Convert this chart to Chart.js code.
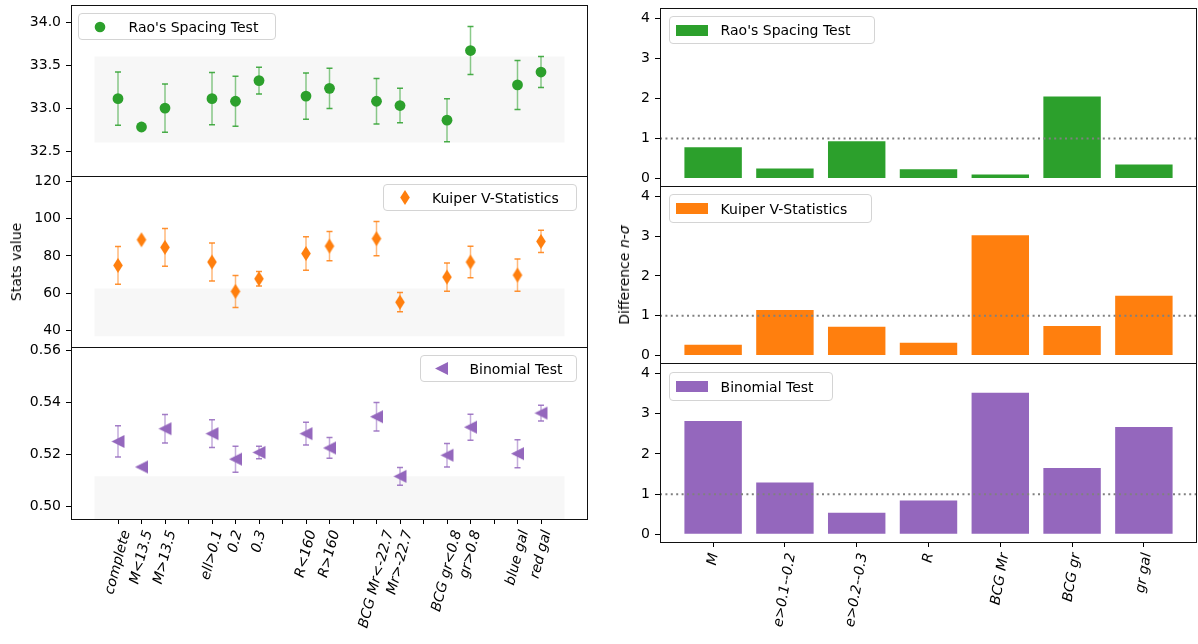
<!DOCTYPE html>
<html>
<head>
<meta charset="utf-8">
<script src="https://cdn.jsdelivr.net/npm/chart.js"></script>
<style>
html, body { margin: 0; padding: 0; background: #fff; overflow: hidden; }
#fig { position: relative; width: 1198px; height: 644px; overflow: hidden; font-family: 'DejaVu Sans', sans-serif; color: #000; }
.box { position: absolute; }
.legend { position: absolute; box-sizing: border-box; border: 1px solid #d4d4d4; border-radius: 4px; background: rgba(255,255,255,0.8); }
.lg-text { position: absolute; font-size: 14px; line-height: 16px; white-space: nowrap; }
.ytitle { position: absolute; font-size: 14px; white-space: nowrap; transform: translate(-50%, -50%) rotate(-90deg); }
</style>
</head>
<body>
<div id="fig"></div>
<script>
// --- data: left column (stat values with 1-sigma errors) ---
const categories = ['complete', 'M<13.5', 'M>13.5', 'ell>0.1', '0.2', '0.3', 'R<160', 'R>160',
  'BCG Mr<-22.7', 'Mr>-22.7', 'BCG gr<0.8', 'gr>0.8', 'blue gal', 'red gal'];
const catPos = [0, 1, 2, 4, 5, 6, 8, 9, 11, 12, 14, 15, 17, 18];
const tickPos = [0, 1, 2, 3, 4, 5, 6, 7, 8, 9, 10, 11, 12, 13, 14, 15, 16, 17, 18];

const raoValues = [33.11, 32.78, 33.00, 33.11, 33.08, 33.32, 33.14, 33.23, 33.08, 33.03, 32.86, 33.67, 33.27, 33.42];
const raoErrors = [0.31, null, 0.28, 0.305, 0.29, 0.155, 0.27, 0.235, 0.265, 0.20, 0.25, 0.28, 0.285, 0.18];
const kuiperValues = [74.9, 88.7, 84.6, 76.7, 60.9, 67.7, 81.3, 85.3, 89.3, 55.1, 68.6, 76.7, 69.7, 87.8];
const kuiperErrors = [10.2, null, 10.2, 10.2, 8.6, 3.9, 9.0, 7.9, 9.2, 5.2, 7.6, 8.5, 8.7, 6.0];
const binomValues = [0.5250, 0.5152, 0.5299, 0.5280, 0.5182, 0.5208, 0.5280, 0.5225, 0.5345, 0.5116, 0.5197, 0.5305, 0.5203, 0.5359];
const binomErrors = [0.0060, null, 0.0055, 0.0053, 0.0050, 0.0024, 0.0044, 0.0040, 0.0055, 0.0034, 0.0045, 0.0050, 0.0054, 0.0030];

// reference (isotropic) ranges shown as grey bands
const bandSpan = [-1, 19];
const raoBand = [32.6, 33.6];
const kuiperBand = [36.8, 62.5];
const binomBand = [0.49, 0.5116];

const raoTicks = [32.5, 33.0, 33.5, 34.0];
const kuiperTicks = [40, 60, 80, 100, 120];
const binomTicks = [0.50, 0.52, 0.54, 0.56];
const leftXRange = [-2, 20];
const raoRange = [32.21, 34.2];
const kuiperRange = [31.0, 123.0];
const binomRange = [0.4952, 0.5613];

// --- data: right column (difference in n-sigma) ---
const diffCategories = ['M', 'e>0.1--0.2', 'e>0.2--0.3', 'R', 'BCG Mr', 'BCG gr', 'gr gal'];
const diffPos = [0, 1, 2, 3, 4, 5, 6];
const raoSigma = [0.78, 0.25, 0.93, 0.23, 0.10, 2.05, 0.35];
const kuiperSigma = [0.27, 1.14, 0.72, 0.32, 3.02, 0.74, 1.50];
const binomSigma = [2.82, 1.29, 0.54, 0.84, 3.52, 1.65, 2.67];
const sigmaLine = 1;
const sigmaTicks = [0, 1, 2, 3, 4];
const rightXRange = [-0.74, 6.74];
const sigmaRange = [-0.19, 4.26];

const GREEN = '#2ca02c', ORANGE = '#ff7f0e', PURPLE = '#9467bd';

Chart.defaults.font.family = "'DejaVu Sans', sans-serif";
Chart.defaults.font.size = 14;
Chart.defaults.color = '#000';

const fig = document.getElementById('fig');

function rgba(hex, a) {
  const n = parseInt(hex.slice(1), 16);
  return `rgba(${n >> 16},${(n >> 8) & 255},${n & 255},${a})`;
}

// small canvases for matplotlib-like markers
function markerImage(kind, color) {
  const c = document.createElement('canvas');
  const g = c.getContext('2d');
  if (kind === 'diamond') {
    c.width = 12; c.height = 17;
  } else if (kind === 'triangle') {
    c.width = 15; c.height = 15;
  } else if (kind === 'circle') {
    c.width = 12; c.height = 12;
  } else {
    c.width = 32; c.height = 11;
  }
  g.fillStyle = color;
  g.beginPath();
  if (kind === 'diamond') {
    g.moveTo(6, 1); g.lineTo(10.8, 8.5); g.lineTo(6, 16); g.lineTo(1.2, 8.5);
  } else if (kind === 'triangle') {
    g.moveTo(1, 7.5); g.lineTo(14, 1); g.lineTo(14, 14);
  } else if (kind === 'circle') {
    g.arc(6, 6, 5.3, 0, Math.PI * 2);
  } else {
    g.rect(0, 0, 32, 11);
  }
  g.closePath();
  g.fill();
  return c;
}

const framePlugin = {
  id: 'frame',
  afterDraw(chart) {
    const { ctx, chartArea: a } = chart;
    const l = Math.round(a.left) + 0.5, t = Math.round(a.top) + 0.5;
    const r = Math.round(a.right) - 0.5, b = Math.round(a.bottom) + 0.5;
    ctx.save();
    ctx.strokeStyle = '#111';
    ctx.lineWidth = 1;
    ctx.strokeRect(l, t, r - l, b - t);
    ctx.restore();
  }
};

function bandAndErrors(band) {
  return {
    id: 'bandErrors',
    beforeDatasetsDraw(chart) {
      const { ctx, chartArea: a, scales: { x, y } } = chart;
      ctx.save();
      ctx.beginPath();
      ctx.rect(a.left, a.top, a.right - a.left, a.bottom - a.top);
      ctx.clip();
      const x0 = x.getPixelForValue(bandSpan[0]), x1 = x.getPixelForValue(bandSpan[1]);
      const y0 = y.getPixelForValue(band[1]), y1 = y.getPixelForValue(band[0]);
      ctx.fillStyle = '#f7f7f7';
      ctx.fillRect(x0, y0, x1 - x0, y1 - y0);
      ctx.lineWidth = 1.5;
      chart.data.datasets.forEach(ds => {
        if (!ds.errors) return;
        ds.data.forEach((p, i) => {
          const e = ds.errors[i];
          if (e == null) return;
          const px = x.getPixelForValue(p.x);
          const top = y.getPixelForValue(p.y + e), bot = y.getPixelForValue(p.y - e);
          ctx.strokeStyle = rgba(ds.backgroundColor, 0.55);
          ctx.beginPath(); ctx.moveTo(px, top); ctx.lineTo(px, bot); ctx.stroke();
          ctx.strokeStyle = rgba(ds.backgroundColor, 0.85);
          ctx.beginPath();
          ctx.moveTo(px - 3, top); ctx.lineTo(px + 3, top);
          ctx.moveTo(px - 3, bot); ctx.lineTo(px + 3, bot);
          ctx.stroke();
        });
      });
      ctx.restore();
    }
  };
}

// rotated, centred tick labels (matplotlib style)
function xLabels(labels, positions, rotation) {
  return {
    id: 'xLabels',
    afterDraw(chart) {
      const { ctx, chartArea: a, scales: { x } } = chart;
      const th = rotation * Math.PI / 180;
      const h = 16.3;
      ctx.save();
      ctx.font = "italic 14px 'DejaVu Sans'";
      ctx.fillStyle = '#000';
      ctx.textAlign = 'center';
      ctx.textBaseline = 'middle';
      labels.forEach((lab, i) => {
        const L = ctx.measureText(lab).width;
        const H = L * Math.sin(th) + h * Math.cos(th);
        const px = x.getPixelForValue(positions[i]);
        ctx.save();
        ctx.translate(px, a.bottom + 9.7 + H / 2);
        ctx.rotate(-th);
        ctx.fillText(lab, 0, 0);
        ctx.restore();
      });
      ctx.restore();
    }
  };
}

function yScale(range, ticks, fmt) {
  return {
    min: range[0], max: range[1],
    afterBuildTicks: s => { s.ticks = ticks.map(v => ({ value: v })); },
    ticks: { callback: fmt, padding: 5, color: '#000', font: { size: 14 } },
    grid: { drawOnChartArea: false, drawTicks: true, tickLength: 5, color: '#000', lineWidth: 1, offset: false },
    border: { display: false },
  };
}

function xScale(range, ticks, show) {
  return {
    type: 'linear', offset: false, min: range[0], max: range[1], display: show,
    afterBuildTicks: s => { s.ticks = ticks.map(v => ({ value: v })); },
    ticks: { display: false },
    grid: { drawOnChartArea: false, drawTicks: true, tickLength: 5, color: '#000', lineWidth: 1, offset: false },
    border: { display: false },
  };
}

function buildPanel(frame, canvasLeft, showX, config) {
  const [fl, ft, fr, fb] = frame;
  const padT = 16, padR = 8, padB = 16;
  const top = ft - padT;
  const bottom = showX ? 644 : fb + padB;
  const holder = document.createElement('div');
  holder.className = 'box';
  holder.style.left = canvasLeft + 'px';
  holder.style.top = top + 'px';
  holder.style.width = (fr + padR - canvasLeft) + 'px';
  holder.style.height = (bottom - top) + 'px';
  const canvas = document.createElement('canvas');
  holder.appendChild(canvas);
  fig.appendChild(holder);
  const o = config.options;
  o.responsive = true;
  o.maintainAspectRatio = false;
  o.animation = false;
  o.events = [];
  o.layout = { padding: { top: padT, right: padR, bottom: showX ? 0 : padB, left: 0 } };
  o.plugins = { legend: { display: false }, tooltip: { enabled: false } };
  o.scales.y.afterFit = s => { s.width = fl - canvasLeft; };
  if (showX) o.scales.x.afterFit = s => { s.height = 644 - fb; };
  config.plugins = (config.plugins || []).concat([framePlugin]);
  return new Chart(canvas, config);
}

function statPanel(frame, showX, values, errors, band, color, marker, range, ticks, fmt) {
  const plugins = [bandAndErrors(band)];
  if (showX) plugins.push(xLabels(categories, catPos, 75));
  return buildPanel(frame, 0, showX, {
    type: 'scatter',
    data: {
      datasets: [{
        data: catPos.map((x, i) => ({ x, y: values[i] })),
        errors,
        backgroundColor: color,
        borderWidth: 0,
        pointStyle: marker,
        pointRadius: 5.4,
      }],
    },
    options: {
      scales: { x: xScale(leftXRange, tickPos, showX), y: yScale(range, ticks, fmt) },
    },
    plugins,
  });
}

function sigmaPanel(frame, showX, sigma, color) {
  const plugins = showX ? [xLabels(diffCategories, diffPos, 80)] : [];
  return buildPanel(frame, 600, showX, {
    type: 'bar',
    data: {
      datasets: [
        {
          type: 'line',
          data: [{ x: rightXRange[0], y: sigmaLine }, { x: rightXRange[1], y: sigmaLine }],
          borderColor: 'grey', borderWidth: 2, borderDash: [2, 3.4], pointRadius: 0, order: 0,
        },
        {
          type: 'bar',
          data: diffPos.map((x, i) => ({ x, y: sigma[i] })),
          backgroundColor: color,
          barPercentage: 0.8, categoryPercentage: 1.0, order: 1,
        },
      ],
    },
    options: {
      scales: { x: xScale(rightXRange, diffPos, showX), y: yScale(sigmaRange, sigmaTicks, v => String(v)) },
    },
    plugins,
  });
}

// left column
statPanel([71, 5, 588, 176], false, raoValues, raoErrors, raoBand, GREEN, 'circle',
  raoRange, raoTicks, v => v.toFixed(1));
statPanel([71, 176, 588, 347], false, kuiperValues, kuiperErrors, kuiperBand, ORANGE, markerImage('diamond', ORANGE),
  kuiperRange, kuiperTicks, v => String(v));
statPanel([71, 347, 588, 519], true, binomValues, binomErrors, binomBand, PURPLE, markerImage('triangle', PURPLE),
  binomRange, binomTicks, v => v.toFixed(2));

// right column
sigmaPanel([660, 8, 1197, 186], false, raoSigma, GREEN);
sigmaPanel([660, 186, 1197, 363], false, kuiperSigma, ORANGE);
sigmaPanel([660, 363, 1197, 542], true, binomSigma, PURPLE);

// legends
function addLegend(box, markerX, textX, marker, label) {
  const [x0, y0, x1, y1] = box;
  const d = document.createElement('div');
  d.className = 'legend';
  d.style.left = x0 + 'px'; d.style.top = y0 + 'px';
  d.style.width = (x1 - x0) + 'px'; d.style.height = (y1 - y0) + 'px';
  fig.appendChild(d);
  const cy = (y0 + y1) / 2;
  marker.style.position = 'absolute';
  marker.style.left = (markerX - marker.width / 2) + 'px';
  marker.style.top = (cy - marker.height / 2) + 'px';
  fig.appendChild(marker);
  const t = document.createElement('div');
  t.className = 'lg-text';
  t.textContent = label;
  t.style.left = textX + 'px';
  t.style.top = (cy - 8) + 'px';
  fig.appendChild(t);
}

addLegend([78, 13, 276, 40], 99.6, 128.5, markerImage('circle', GREEN), "Rao's Spacing Test");
addLegend([383, 184, 577, 211], 405, 432, markerImage('diamond', ORANGE), 'Kuiper V-Statistics');
addLegend([420, 355, 577, 382], 441, 469.5, markerImage('triangle', PURPLE), 'Binomial Test');
addLegend([669, 16, 875, 44], 692, 720.6, markerImage('patch', GREEN), "Rao's Spacing Test");
addLegend([669, 194, 872, 223], 692, 720.6, markerImage('patch', ORANGE), 'Kuiper V-Statistics');
addLegend([669, 372, 833, 401], 692, 720.6, markerImage('patch', PURPLE), 'Binomial Test');

// axis titles
function addYTitle(cx, cy, html) {
  const d = document.createElement('div');
  d.className = 'ytitle';
  d.style.left = cx + 'px';
  d.style.top = cy + 'px';
  d.innerHTML = html;
  fig.appendChild(d);
}
addYTitle(16, 262, 'Stats value');
addYTitle(624, 275, 'Difference <i>n</i>-<i>σ</i>');
</script>
</body>
</html>
